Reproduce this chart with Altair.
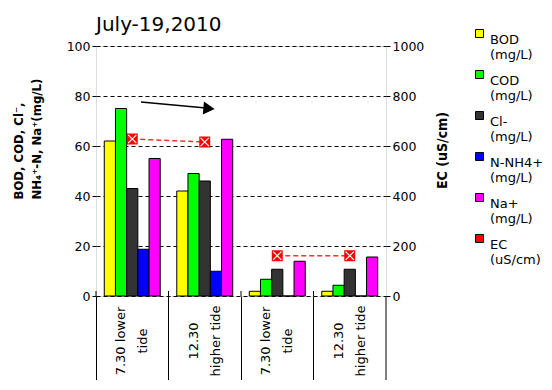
import altair as alt
import pandas as pd

# ---- data ----
categories = ["g1", "g2", "g3", "g4"]
cat_labels = [["7.30 lower", "tide"], ["12.30", "higher tide"],
              ["7.30 lower", "tide"], ["12.30", "higher tide"]]
pairs = ["A", "A", "B", "B"]
series = ["BOD", "COD", "Cl-", "N-NH4+", "Na+"]
bod = [62, 42, 1.9, 1.9]
cod = [75, 49, 6.7, 4.3]
cl = [43, 46, 10.7, 10.7]
nh4 = [18.7, 9.9, 0, 0]
na = [55, 62.7, 13.9, 15.6]
ec = [628, 616, 161, 161]
legend_names = ["BOD", "COD", "Cl-", "N-NH4+", "Na+", "EC"]
colors = ["#ffff00", "#00ff00", "#333333", "#0000ff", "#ff00ff", "#ff0000"]
left_ticks = [0, 20, 40, 60, 80, 100]
right_ticks = [0, 200, 400, 600, 800, 1000]
# annotation arrow (left-axis units)
arrow_start = [77.6]
arrow_end = [75.2]
arrow_head = [75.0]

FONT = "DejaVu Sans"
BOLD = "'Liberation Sans Narrow', 'DejaVu Sans Condensed', 'Liberation Sans', sans-serif"
W, H = 290, 250
SEP = 89

rows = []
for i, c in enumerate(categories):
    for s, vals in zip(series, [bod, cod, cl, nh4, na]):
        rows.append({"cat": c, "series": s, "value": vals[i]})
bars_df = pd.DataFrame(rows)
ec_df = pd.DataFrame({"cat": categories, "ec": ec, "pair": pairs})
cat_df = pd.DataFrame({"cat": categories, "y0": [0] * 4, "y1": [2] * 4})
arrow_df = pd.DataFrame({"value": arrow_start, "value2": arrow_end, "head": arrow_head})

# label expression
expr = "''"
for c, lab in reversed(list(zip(categories, cat_labels))):
    expr = f"datum.value == '{c}' ? ['{lab[0]}', '{lab[1]}'] : ({expr})"

x_scale = alt.Scale(domain=categories, paddingInner=0, paddingOuter=0)
x_axis = alt.Axis(title=None, bandPosition=0, tickSize=SEP, tickColor="black",
                  domain=False, labelAngle=270, labelAlign="center",
                  labelBaseline="middle", labelPadding=-44.5, labelOffset=-11,
                  labelExpr=expr, labelFont=FONT, labelFontSize=13, labelColor="black",
                  labelLineHeight=22, grid=False)
x_enc = alt.X("cat:N", scale=x_scale, axis=x_axis)

y_scale = alt.Scale(domain=[0, 100], nice=False)
y_axis = alt.Axis(values=left_ticks, title=["BOD, COD, Cl⁻,", "NH₄⁺-N, Na⁺(mg/L)"],
                  titleAngle=270, titleAlign="left", titleBaseline="middle",
                  titleX=-78, titleY=153, titleFont=BOLD, titleFontSize=13,
                  titleFontWeight="bold", titleLineHeight=18, titleColor="black",
                  labelFont=FONT, labelFontSize=12.5, labelColor="black",
                  tickColor="black", tickSize=4, domain=False,
                  grid=True, gridColor="black", gridDash=[4, 3], gridWidth=1)

bars = alt.Chart(bars_df).mark_bar(stroke="black", strokeWidth=1).encode(
    x=x_enc,
    xOffset=alt.XOffset("series:N", scale=alt.Scale(domain=series, paddingInner=0, paddingOuter=0.74)),
    y=alt.Y("value:Q", scale=y_scale, axis=y_axis),
    color=alt.Color("series:N", scale=alt.Scale(domain=legend_names, range=colors),
                    legend=alt.Legend(orient="none", legendX=377, legendY=-19, title=None,
                                      padding=0, symbolType="square", symbolSize=64,
                                      symbolStrokeColor="black", symbolStrokeWidth=1,
                                      symbolOpacity=1,
                                      labelFont=FONT, labelFontSize=13, labelColor="black",
                                      labelBaseline="top", rowPadding=6,
                                      labelExpr="datum.label == 'EC' ? ['EC', '(uS/cm)'] : [datum.label, '(mg/L)']")),
)

inner_ticks = alt.Chart(cat_df).mark_rule(color="black", strokeWidth=1).encode(
    x=alt.X("cat:N", scale=x_scale, axis=x_axis, bandPosition=0),
    y=alt.Y("y0:Q", scale=y_scale, axis=y_axis),
    y2="y1:Q",
)
last_sep = alt.Chart(cat_df.head(1)).mark_rule(color="black", strokeWidth=1).encode(
    x=alt.value(W), y=alt.value(H), y2=alt.value(H + SEP)
)

arrow_line = alt.Chart(arrow_df).mark_rule(color="black", strokeWidth=1.5).encode(
    x=alt.value(45), x2=alt.value(110),
    y=alt.Y("value:Q", scale=y_scale, axis=y_axis), y2="value2:Q",
)
arrow_tip = alt.Chart(arrow_df).mark_point(shape="triangle-right", filled=True, color="black",
                                           size=170, angle=5, opacity=1).encode(
    x=alt.value(113), y=alt.Y("head:Q", scale=y_scale, axis=y_axis),
)

left = alt.layer(bars, inner_ticks, last_sep, arrow_line, arrow_tip)

ec_scale = alt.Scale(domain=[0, 1000], nice=False)
ec_axis = alt.Axis(orient="right", values=right_ticks, format="d", title="EC (uS/cm)",
                   titleAngle=270, titleAlign="center", titleBaseline="middle",
                   titleX=56, titleY=104, titleFont=BOLD, titleFontSize=14,
                   titleFontWeight="bold", titleColor="black",
                   labelFont=FONT, labelFontSize=12.5, labelColor="black",
                   tickColor="black", tickSize=4, domain=False, grid=False)
ec_y = alt.Y("ec:Q", scale=ec_scale, axis=ec_axis)

ec_line = alt.Chart(ec_df).mark_line(color="#ff3030", strokeDash=[5, 3], strokeWidth=1.5).encode(
    x=x_enc, y=ec_y, detail="pair:N")
ec_pts = alt.Chart(ec_df).mark_point(shape="square", filled=True, color="#ff0000",
                                     size=121, opacity=1).encode(x=x_enc, y=ec_y)
ec_x = alt.Chart(ec_df).mark_point(shape="M-0.75,-0.75L0.75,0.75M0.75,-0.75L-0.75,0.75",
                                   filled=False, color="white", strokeWidth=1.2,
                                   size=121, opacity=1).encode(x=x_enc, y=ec_y)
right = alt.layer(ec_line, ec_pts, ec_x)

chart = alt.layer(left, right).resolve_scale(y="independent").properties(
    width=W, height=H,
    title=alt.TitleParams("July-19,2010", anchor="start", frame="group", fontSize=20,
                          fontWeight="normal", font=FONT, color="black",
                          baseline="alphabetic", offset=15, dy=39),
    autosize=alt.AutoSizeParams(type="none"),
    padding={"left": 88, "top": 38, "right": 158, "bottom": 84},
).configure_view(stroke="black", strokeWidth=1).configure(background="white")

chart.save("out.html", embed_options={"renderer": "svg", "actions": False})
